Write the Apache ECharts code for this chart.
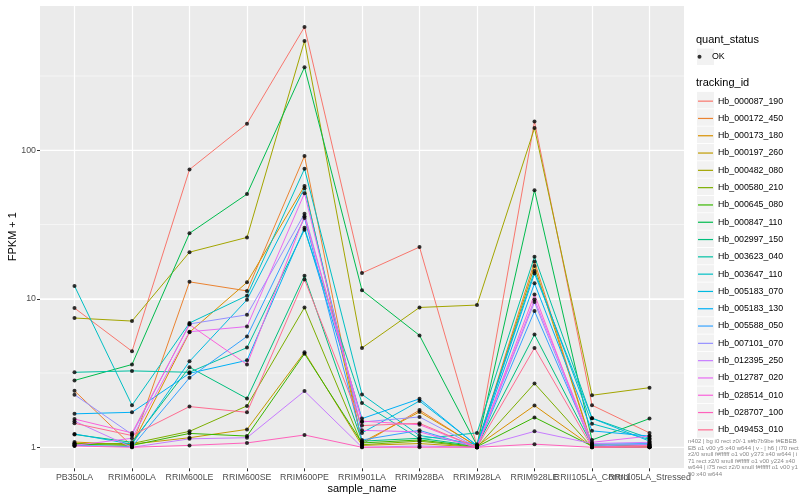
<!DOCTYPE html>
<html><head><meta charset="utf-8">
<script src="https://cdn.jsdelivr.net/npm/echarts@6/dist/echarts.min.js"></script>
<style>html,body{margin:0;padding:0;background:#fff}#c{width:800px;height:500px}
#d{position:absolute;left:688px;top:438px;width:112px;font:6px "Liberation Sans";line-height:6.6px;color:#888;word-break:break-all}</style>
</head><body><div id="c"></div><div id="d"></div>
<script>
const categories = ['PB350LA','RRIM600LA','RRIM600LE','RRIM600SE','RRIM600PE','RRIM901LA','RRIM928BA','RRIM928LA','RRIM928LE','RRII105LA_Control','RRII105LA_Stressed'];
const trackingIds = ['Hb_000087_190','Hb_000172_450','Hb_000173_180','Hb_000197_260','Hb_000482_080','Hb_000580_210','Hb_000645_080','Hb_000847_110','Hb_002997_150','Hb_003623_040','Hb_003647_110','Hb_005183_070','Hb_005183_130','Hb_005588_050','Hb_007101_070','Hb_012395_250','Hb_012787_020','Hb_028514_010','Hb_028707_100','Hb_049453_010'];
const colors = ['#F8766D','#EA8331','#D89000','#C09B00','#A3A500','#7CAE00','#39B600','#00BB4E','#00BF7D','#00C1A3','#00BFC4','#00BAE0','#00B0F6','#35A2FF','#9590FF','#C77CFF','#E76BF3','#FA62DB','#FF62BC','#FF6C91'];

const hb000087_190 = [8.66, 4.43, 74.2, 151, 676, 14.9, 22.3, 1.02, 156, 1.92, 1.25];
const hb000172_450 = [2.4, 1.02, 13.0, 11.3, 91.6, 1.05, 1.78, 1.01, 17.8, 1.04, 1.02];
const hb000173_180 = [1.085, 1.04, 5.95, 12.9, 57.4, 1.08, 1.73, 1.02, 1.91, 1.01, 1.0];
const hb000197_260 = [1.06, 1.05, 1.16, 1.32, 4.36, 1.03, 1.06, 1.0, 16.6, 1.03, 1.01];
const hb000482_080 = [7.42, 7.08, 20.6, 25.9, 545, 4.67, 8.74, 9.07, 141, 2.24, 2.52];
const hb000580_210 = [1.06, 1.06, 1.28, 1.9, 8.74, 1.04, 1.1, 1.0, 2.69, 1.0, 1.0];
const hb000645_080 = [1.05, 1.03, 1.24, 1.19, 4.27, 1.07, 1.12, 1.01, 1.59, 1.02, 1.0];
const hb000847_110 = [2.82, 3.61, 27.6, 50.7, 362, 11.4, 5.67, 1.03, 53.9, 1.12, 1.56];
const hb002997_150 = [1.22, 1.08, 3.46, 2.13, 14.3, 1.1, 1.15, 1.02, 5.74, 1.03, 1.04];
const hb003623_040 = [3.2, 3.27, 3.2, 4.69, 29.2, 1.99, 1.14, 1.25, 19.2, 1.57, 1.15];
const hb003647_110 = [12.2, 1.92, 6.87, 10.5, 75, 2.27, 1.2, 1.05, 15.4, 1.44, 1.13];
const hb005183_070 = [1.23, 1.05, 3.79, 9.85, 55.6, 1.25, 2.05, 1.03, 14.8, 1.57, 1.1];
const hb005183_130 = [1.68, 1.72, 3.15, 3.85, 30.1, 1.56, 2.12, 1.02, 12.7, 1.29, 1.19];
const hb005588_050 = [1.03, 1.01, 2.94, 5.58, 35, 1.12, 1.3, 1.0, 8.26, 1.05, 1.06];
const hb007101_070 = [2.26, 1.22, 6.77, 7.8, 37.4, 1.48, 1.6, 1.0, 9.5, 1.02, 1.05];
const hb012395_250 = [1.5, 1.0, 1.14, 1.16, 2.39, 1.0, 1.02, 1.0, 1.28, 1.06, 1.08];
const hb012787_020 = [1.03, 1.15, 6.0, 6.5, 51.4, 1.3, 1.27, 1.0, 9.9, 1.08, 1.19];
const hb028514_010 = [1.55, 1.25, 6.7, 3.61, 36, 1.5, 1.42, 1.0, 10.7, 1.0, 1.03];
const hb028707_100 = [1.02, 1.0, 1.03, 1.07, 1.21, 1.0, 1.0, 1.0, 1.05, 1.0, 1.0];
const hb049453_010 = [1.45, 1.2, 1.88, 1.72, 13.5, 1.4, 1.45, 1.0, 4.67, 1.0, 1.02];

const seriesValues = [hb000087_190, hb000172_450, hb000173_180, hb000197_260, hb000482_080, hb000580_210, hb000645_080, hb000847_110, hb002997_150, hb003623_040, hb003647_110, hb005183_070, hb005183_130, hb005588_050, hb007101_070, hb012395_250, hb012787_020, hb028514_010, hb028707_100, hb049453_010];

const X_MIN = -0.6, X_MAX = 10.6;
const yMajorBreaks = [1, 10, 100];
const yMinorBreaks = [Math.pow(10, 0.5), Math.pow(10, 1.5), Math.pow(10, 2.5)];
const xTicks = categories.map((c, i) => i);
const xTicksA = xTicks.filter(i => i % 2 === 0);
const xTicksB = xTicks.filter(i => i % 2 === 1);

const FONT = 'Liberation Sans';
const series = [];
// panel gridlines as thin filled bands positioned through the y scale
series.push({
  type: 'custom', name: 'gridBands', z: 2, silent: true, clip: false,
  encode: {x: 0, y: 1},
  data: yMinorBreaks.map(b => [X_MIN, b, 0.6]).concat(yMajorBreaks.map(b => [X_MIN, b, 1.2])),
  renderItem: function (params, api) {
    const b = api.value(1), w = api.value(2);
    const p0 = api.coord([X_MIN, b]), p1 = api.coord([X_MAX, b]);
    return {type: 'rect', shape: {x: p0[0], y: p0[1] - w / 2, width: p1[0] - p0[0], height: w},
            style: {fill: '#ffffff'}};
  }
});
seriesValues.forEach((vals, k) => {
  series.push({
    name: trackingIds[k], type: 'line', symbol: 'none', z: 2,
    color: colors[k],
    lineStyle: {width: 1, color: colors[k]},
    data: vals.map((v, i) => [i, v])
  });
});
const allPoints = [];
seriesValues.forEach(vals => vals.forEach((v, i) => allPoints.push([i, v])));
series.push({
  name: 'OK', type: 'scatter', z: 5, symbol: 'circle', symbolSize: 4,
  itemStyle: {color: '#000000'}, data: allPoints
});

const keyRects = [];
keyRects.push({type: 'rect', shape: {x: 697, y: 48.5, width: 17, height: 16.5}, style: {fill: '#F2F2F2'}});
trackingIds.forEach((t, i) => {
  keyRects.push({type: 'rect', shape: {x: 697, y: 91.9 + 17.33 * i, width: 17, height: 16.5}, style: {fill: '#F2F2F2'}});
});

function xAxisDef(ticks, main) {
  return {
    type: 'value', min: X_MIN, max: X_MAX, position: 'bottom', offset: 0,
    name: main ? 'sample_name' : '', nameLocation: 'middle', nameGap: 15, nameMoveOverlap: false,
    nameTextStyle: {color: '#000000', fontSize: 11, fontFamily: FONT},
    axisLine: {show: false, onZero: false},
    axisTick: {show: true, length: 3, lineStyle: {color: '#333333', width: 1}, customValues: ticks},
    axisLabel: {customValues: ticks, color: '#4D4D4D', fontSize: 8.8, fontFamily: FONT, margin: 5,
      hideOverlap: false, showMinLabel: true, showMaxLabel: true,
      formatter: v => categories[Math.round(v)] || ''},
    splitLine: {show: true, lineStyle: {color: '#ffffff', width: 1.2}},
    minorSplitLine: {show: false}
  };
}

const option = {
  animation: false,
  textStyle: {fontFamily: FONT},
  grid: {left: 40, right: 116, top: 5, bottom: 31.7, show: true, backgroundColor: '#EBEBEB', borderWidth: 0,
         containLabel: false, outerBoundsMode: 'none'},
  xAxis: [xAxisDef(xTicksA, true), xAxisDef(xTicksB, false)],
  yAxis: {
    type: 'log', logBase: 10, min: 0.722, max: 951,
    name: 'FPKM + 1', nameLocation: 'middle', nameGap: 22, nameRotate: 90, nameMoveOverlap: false,
    nameTextStyle: {color: '#000000', fontSize: 11, fontFamily: FONT},
    axisLine: {show: false, onZero: false},
    axisTick: {show: true, length: 3, lineStyle: {color: '#333333', width: 1}},
    axisLabel: {color: '#4D4D4D', fontSize: 8.8, fontFamily: FONT, margin: 4,
      showMinLabel: false, showMaxLabel: false,
      formatter: v => String(Math.round(v))},
    splitLine: {show: true, lineStyle: {color: '#ffffff', width: 1.2}},
    minorSplitLine: {show: false}
  },
  legend: [
    {
      data: ['OK'], orient: 'vertical', left: 697.5, top: 48, padding: 0,
      icon: 'circle', itemWidth: 15, itemHeight: 4, itemGap: 0,
      textStyle: {fontSize: 8.8, color: '#000000', fontFamily: FONT, lineHeight: 17.33},
      selectedMode: false
    },
    {
      data: trackingIds, orient: 'vertical', left: 698, top: 92.5, padding: 0,
      icon: 'rect', itemWidth: 15, itemHeight: 1.2, itemGap: 0,
      textStyle: {fontSize: 8.8, color: '#000000', fontFamily: FONT, lineHeight: 17.3},
      selectedMode: false
    }
  ],
  graphic: [
    {type: 'group', z: -1, silent: true, children: keyRects},
    {type: 'text', left: 696, top: 34.5, silent: true, style: {text: 'quant_status', font: '11px "Liberation Sans"', fill: '#000000'}},
    {type: 'text', left: 696, top: 77.5, silent: true, style: {text: 'tracking_id', font: '11px "Liberation Sans"', fill: '#000000'}}
  ],
  series: series
};
const chart = echarts.init(document.getElementById('c'));
chart.setOption(option);

// small render diagnostic in the empty bottom-right corner
setTimeout(function () {
  try {
    const list = chart.getZr().storage.getDisplayList(true);
    const out = ['n' + list.length];
    let h = [], bg = null, v = null;
    list.forEach(function (el, i) {
      const r = el.getBoundingRect().clone();
      if (el.transform) r.applyTransform(el.transform);
      const st = el.style || {};
      if (!bg && st.fill && String(st.fill).toUpperCase() === '#EBEBEB') bg = [i, el, r];
      if (r.width > 500 && r.height < 5) h.push([i, el, r]);
      if (!v && r.height > 400 && r.width < 5) v = [i, el, r];
    });
    const f = o => o ? ('i' + o[0] + ' ' + o[1].type + ' z' + o[1].z + '/' + o[1].z2 + ' s' + o[1].style.stroke + ' f' + o[1].style.fill + ' o' + o[1].style.opacity + ' v' + (o[1].invisible ? 1 : 0) + (o[1].ignore ? 1 : 0) + ' y' + o[2].y.toFixed(0) + ' x' + o[2].x.toFixed(0) + ' w' + o[2].width.toFixed(0)) : '-';
    out.push('bg ' + f(bg));
    out.push('v ' + f(v));
    out.push('h' + h.length);
    h.slice(0, 2).forEach(o => out.push(f(o)));
    const lastH = h[h.length - 1];
    if (h.length > 2) out.push(f(lastH));
    document.getElementById('d').textContent = out.join(' | ');
  } catch (e) {
    document.getElementById('d').textContent = 'err ' + e.message;
  }
}, 30);
</script></body></html>
